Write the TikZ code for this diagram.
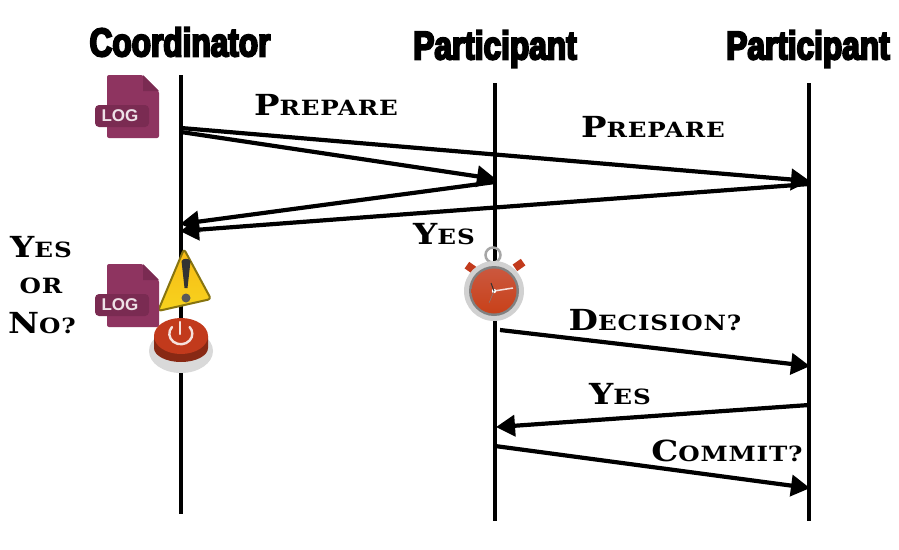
\documentclass[tikz,border=0pt]{standalone}
\usepackage{fontspec}
\usepackage{tikz}
\usetikzlibrary{arrows.meta}
\newfontfamily\headfont[FakeBold=5,FakeStretch=0.79]{Liberation Sans Bold}
\newfontfamily\logfont{Liberation Sans Bold}
\newfontfamily\capfont[LetterSpace=4,FakeStretch=1.17]{DejaVu Serif Bold}
\newcommand{\capword}[2]{{\capfont\fontsize{29}{29}\selectfont #1\fontsize{21}{21}\selectfont #2}}
\definecolor{logpurple}{HTML}{8E3460}
\definecolor{logdark}{HTML}{7A2B52}
\definecolor{warnyellow}{HTML}{F6D31E}
\definecolor{btnred}{HTML}{C23A1C}
\tikzset{
    head/.style={font=\headfont\fontsize{40}{40}\selectfont, inner sep=0pt},
    lifeline/.style={line width=4.6pt},
    msg/.style={line width=4.2pt, -{Triangle[length=19pt,width=21pt]}, shorten >=-1pt},
    word/.style={inner sep=0pt}
}
% one file icon, anchored at its centre
\newcommand{\logicon}[2]{
    \fill[logpurple, rounded corners=2pt] (#1-26,#2-31) -- (#1+10,#2-31) -- (#1+26,#2-15) -- (#1+26,#2+32) -- (#1-26,#2+32) -- cycle;
    \fill[logdark] (#1+10,#2-31) -- (#1+10,#2-15) -- (#1+26,#2-15) -- cycle;
    \fill[logdark, rounded corners=4pt] (#1-38,#2-1) rectangle (#1+16,#2+21);
    \node[text=white!85!logpurple, font=\logfont\fontsize{17}{17}\selectfont, inner sep=0pt] at (#1-13,#2+10) {LOG};
}
\begin{document}
\begin{tikzpicture}[x=1pt,y=-1pt]
    \useasboundingbox (0,0) rectangle (899,549);
    \fill[white] (0,0) rectangle (899,549);
    % headings
    \node[head] (coord) at (180,42) {Coordinator};
    \node[head] (part1) at (495,49) {Participant};
    \node[head] (part2) at (808,49) {Participant};
    % lifelines
    \coordinate (c0) at (181,75);
    \coordinate (c1) at (181,514);
    \coordinate (p0) at (495,83);
    \coordinate (p1) at (495,521);
    \coordinate (q0) at (809,83);
    \coordinate (q1) at (809,521);
    \draw[lifeline] (c0) -- (c1);
    \draw[lifeline] (p0) -- (p1);
    \draw[lifeline] (q0) -- (q1);
    % message ends
    \coordinate (a1) at (181,128);
    \coordinate (a2) at (181,132);
    \coordinate (b1) at (495,179);
    \coordinate (b2) at (809,181);
    \coordinate (d1) at (495,182);
    \coordinate (d2) at (809,184);
    \coordinate (e1) at (181,224);
    \coordinate (e2) at (181,231);
    \coordinate (f1) at (500,330);
    \coordinate (f2) at (809,366);
    \coordinate (g1) at (809,405);
    \coordinate (g2) at (497,427);
    \coordinate (h1) at (495,446);
    \coordinate (h2) at (809,488);
    \draw[msg] (a2) -- (b1);
    \draw[msg] (a1) -- (b2);
    \draw[msg] (d1) -- (e1);
    \draw[msg] (d2) -- (e2);
    \draw[msg] (f1) -- (f2);
    \draw[msg] (g1) -- (g2);
    \draw[msg] (h1) -- (h2);
    % labels
    \node[word] (w1) at (326,105) {\capword{P}{REPARE}};
    \node[word] (w2) at (653,127) {\capword{P}{REPARE}};
    \node[word] (w3) at (444,234) {\capword{Y}{ES}};
    \node[word] (w4) at (655,320) {\capword{D}{ECISION?}};
    \node[word] (w5) at (620,394) {\capword{Y}{ES}};
    \node[word] (w6) at (727,451) {\capword{C}{OMMIT?}};
    \node[word] (w7) at (41,247) {\capword{Y}{ES}};
    \node[word] (w8) at (41,286) {\capword{}{OR}};
    \node[word] (w9) at (42,323) {\capword{N}{O?}};
    % icons
    \logicon{133}{106}
    \draw[top color=warnyellow!70!orange, bottom color=warnyellow, draw=black!45!warnyellow, line width=2pt, line join=round, rounded corners=3pt] (184,249) -- (211,299) -- (158,311) -- cycle;
    \logicon{133}{295}
    \fill[black!80] (181.5,261) .. controls (183,258) and (189,258) .. (190.5,261) -- (187.5,288) -- (184.5,288) -- cycle;
    \fill[black!65] (186,298) circle (4.5pt);
    \fill[black!15] (181,351) ellipse (32pt and 22pt);
    \fill[btnred!70!black] (154,336) -- (208,336) -- (208,348) arc (0:-180:27pt and 14pt) -- cycle;
    \fill[btnred] (181,336) ellipse (27pt and 18pt);
    \draw[white!85!btnred, line width=2.4pt, line cap=round] (172,327) arc (140:400:11.5pt and 10.5pt);
    \draw[white!85!btnred, line width=2.4pt, line cap=round] (180,322) -- (180,334);
    % stopwatch
    \draw[black!35, line width=2.5pt] (493,255) circle (7.5pt);
    \fill[btnred, rotate around={-35:(471,268)}] (466,264) rectangle (476,272);
    \fill[btnred, rotate around={35:(519,265)}] (514,261) rectangle (524,269);
    \fill[black!18] (494,291) circle (30pt);
    \fill[black!50] (494,291) circle (25pt);
    \shade[top color=btnred!85!white, bottom color=btnred!90!orange] (494,291) circle (22.5pt);
    \draw[white!85!btnred, line width=1.5pt] (494,291) -- (513,288);
    \fill[white] (494,291) circle (2.2pt);
    \draw[black!80, line width=1pt] (494,291) -- (491,283);
    \draw[black!50, line width=0.5pt] (494,291) -- (489,303);
\end{tikzpicture}
\end{document}
